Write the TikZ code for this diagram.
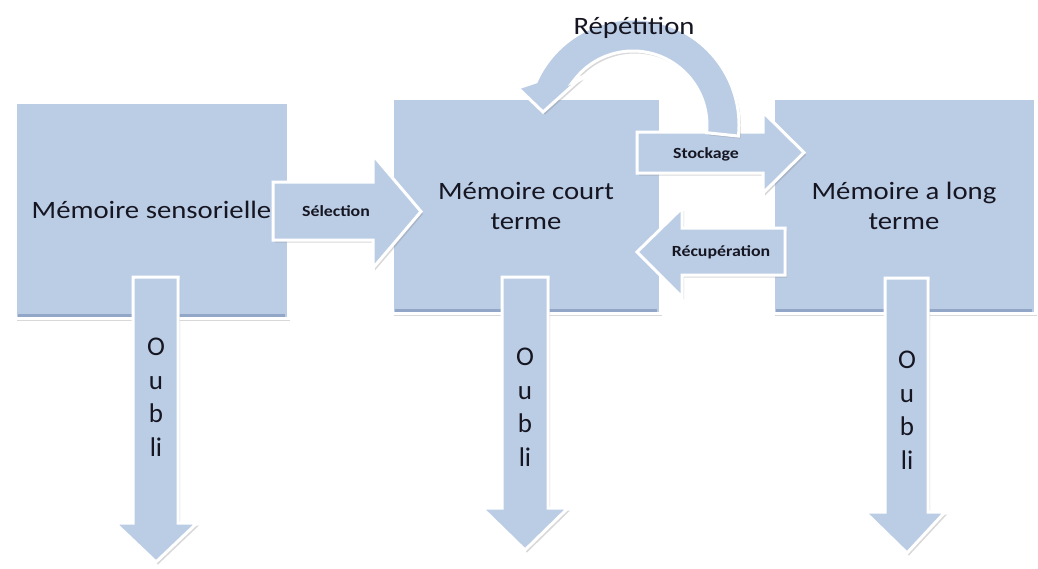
\documentclass[tikz,border=0pt]{standalone}
\usepackage{fontspec}
\setmainfont{Carlito}[FakeStretch=1.15]
\newfontfamily\oublifont{Carlito}
\usetikzlibrary{shadows}
\definecolor{boxblue}{RGB}{187,205,229}
\definecolor{bevelc}{RGB}{146,166,200}
\definecolor{txt}{RGB}{22,22,34}
\begin{document}
\begin{tikzpicture}[x=1pt,y=1pt,
  blockfill/.style={fill=boxblue, draw=white, line width=3pt, line join=miter,
    drop shadow={shadow xshift=2pt, shadow yshift=-2.5pt, opacity=0.3}},
  memobox/.style={blockfill, rectangle, inner sep=0pt, outer sep=0pt, text=txt,
    font=\fontsize{25}{30}\selectfont, align=center},
  lbl/.style={text=txt, font=\fontsize{15.5}{18}\selectfont\bfseries, inner sep=0pt},
  bigl/.style={text=txt, font=\fontsize{25}{30}\selectfont, inner sep=0pt},
  oubli/.style={text=txt, font=\oublifont\fontsize{27}{33.5}\selectfont, align=center, inner sep=0pt},
  bevelline/.style={draw=bevelc, line width=3pt}
]
\useasboundingbox (0,0) rectangle (1038,-568);
\fill[white] (0,0) rectangle (1038,-568);

% memory boxes
\node[memobox, minimum width=273pt, minimum height=216pt] (b1) at (151.5,-210) {Mémoire sensorielle};
\node[memobox, minimum width=268pt, minimum height=215pt] (b2) at (526,-205.5) {Mémoire court\\terme};
\node[memobox, minimum width=262pt, minimum height=215pt] (b3) at (904,-205.5) {Mémoire a long\\terme};
\foreach \b in {b1,b2,b3}{
  \draw[bevelline] ([xshift=3pt,yshift=3pt]\b.south west) -- ([xshift=-3pt,yshift=3pt]\b.south east);
}

% Selection
\draw[blockfill] (273,-182) -- (373,-182) -- (373,-155) -- (421,-211.5) -- (373,-268) -- (373,-240) -- (273,-240) -- cycle;
\node[lbl] (lsel) at (336,-211) {Sélection};

% Stockage
\draw[blockfill] (637,-132) -- (763,-132) -- (763,-112) -- (804,-152.5) -- (763,-193) -- (763,-173) -- (637,-173) -- cycle;
\node[lbl] (lsto) at (706,-154) {Stockage};

% Recuperation
\draw[blockfill] (785,-228) -- (682,-228) -- (682,-208) -- (637,-252) -- (682,-297) -- (682,-275) -- (785,-275) -- cycle;
\node[lbl] (lrec) at (721,-252) {Récupération};

% Repetition curved arrow
\draw[blockfill] (633,-125) ++(-6:106) arc[start angle=-6, end angle=156, radius=106]
  -- (518,-88) -- (543,-112) -- (582,-77) -- (573.1,-81.5)
  arc[start angle=144, end angle=-6, radius=74] -- cycle;
\node[bigl] (lrep) at (634,-28) {Répétition};

% Oubli arrows
\draw[blockfill] (133,-277) -- (178,-277) -- (178,-523) -- (197,-523) -- (156,-562) -- (115,-523) -- (133,-523) -- cycle;
\draw[blockfill] (502,-277) -- (548,-277) -- (548,-508) -- (568,-508) -- (525,-550) -- (482,-508) -- (502,-508) -- cycle;
\draw[blockfill] (885,-278) -- (928,-278) -- (928,-512) -- (945,-512) -- (907,-553) -- (865,-512) -- (885,-512) -- cycle;
\node[oubli] (o1) at (156,-397) {O\\u\\b\\li};
\node[oubli] (o2) at (525,-407) {O\\u\\b\\li};
\node[oubli] (o3) at (907,-410) {O\\u\\b\\li};
\end{tikzpicture}
\end{document}
